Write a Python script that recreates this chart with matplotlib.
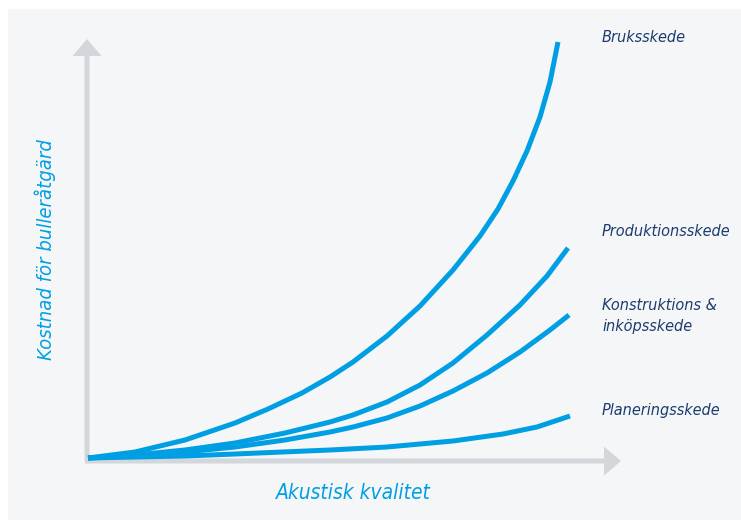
import matplotlib.pyplot as plt
from matplotlib.patches import Rectangle, FancyArrow

# curve points (x = quality, y = cost, pixel-like units)
bruk_x = [0, 47, 97, 147, 180, 214, 242, 265, 299, 332, 365, 392, 410, 425, 439, 452, 462, 470]
bruk_y = [0, 6, 18, 35, 49, 65, 81, 96, 122, 152, 188, 222, 249, 277, 307, 341, 376, 416]

prod_x = [0, 47, 97, 147, 197, 242, 265, 299, 332, 365, 399, 432, 459, 480]
prod_y = [0, 3, 8, 15, 25, 36, 43, 56, 73, 95, 123, 153, 182, 210]

kons_x = [0, 47, 97, 147, 197, 242, 265, 299, 332, 365, 399, 432, 462, 481]
kons_y = [0, 2, 6, 11, 18, 26, 31, 40, 52, 67, 85, 106, 128, 143]

plan_x = [0, 97, 147, 242, 299, 365, 415, 449, 482]
plan_y = [0, 2, 4, 8, 11, 17, 24, 31, 42]

labels = ["Bruksskede", "Produktionsskede", "Konstruktions &\ninköpsskede", "Planeringsskede"]
label_y = [420, 226, 142, 48]

blue = "#009fe3"
navy = "#1d3c6e"
grey = "#d3d7db"
font = ["DejaVu Sans"]

fig = plt.figure(figsize=(7.41, 5.20), dpi=100)
fig.patch.set_facecolor("white")
ax = fig.add_axes([0, 0, 1, 1])
ax.set_xlim(-88, 741 - 88)
ax.set_ylim(458 - 520, 458)
ax.axis("off")

# light panel behind the chart
ax.add_patch(Rectangle((8 / 741, 0), 1, 1 - 9 / 520, transform=ax.transAxes,
                       facecolor="#f5f6f8", edgecolor="none", zorder=0))

# grey arrow axes
ax.add_patch(FancyArrow(-1, -3, 0, 422, width=5, head_width=29, head_length=17,
                        length_includes_head=True, color=grey, lw=0, zorder=1))
ax.add_patch(FancyArrow(-3, -3, 536, 0, width=5, head_width=29, head_length=17,
                        length_includes_head=True, color=grey, lw=0, zorder=1))

for xs, ys in [(bruk_x, bruk_y), (prod_x, prod_y), (kons_x, kons_y), (plan_x, plan_y)]:
    ax.plot(xs, ys, color=blue, lw=3.6, solid_capstyle="butt",
            solid_joinstyle="round", zorder=2)

for lab, y in zip(labels, label_y):
    ax.text(514, y, lab, color=navy, fontsize=11.6, style="italic", fontstretch="condensed",
            family=font, va="center", ha="left", linespacing=1.45)

ax.text(265, -35, "Akustisk kvalitet", color=blue, fontsize=15, style="italic",
        fontstretch="condensed", family=font, ha="center", va="center")
ax.text(-43, 208, "Kostnad för bulleråtgärd", color=blue, fontsize=14.5, style="italic",
        fontstretch="condensed", family=font, ha="center", va="center", rotation=90)

fig.savefig("out.png", dpi=100, facecolor=fig.get_facecolor())
